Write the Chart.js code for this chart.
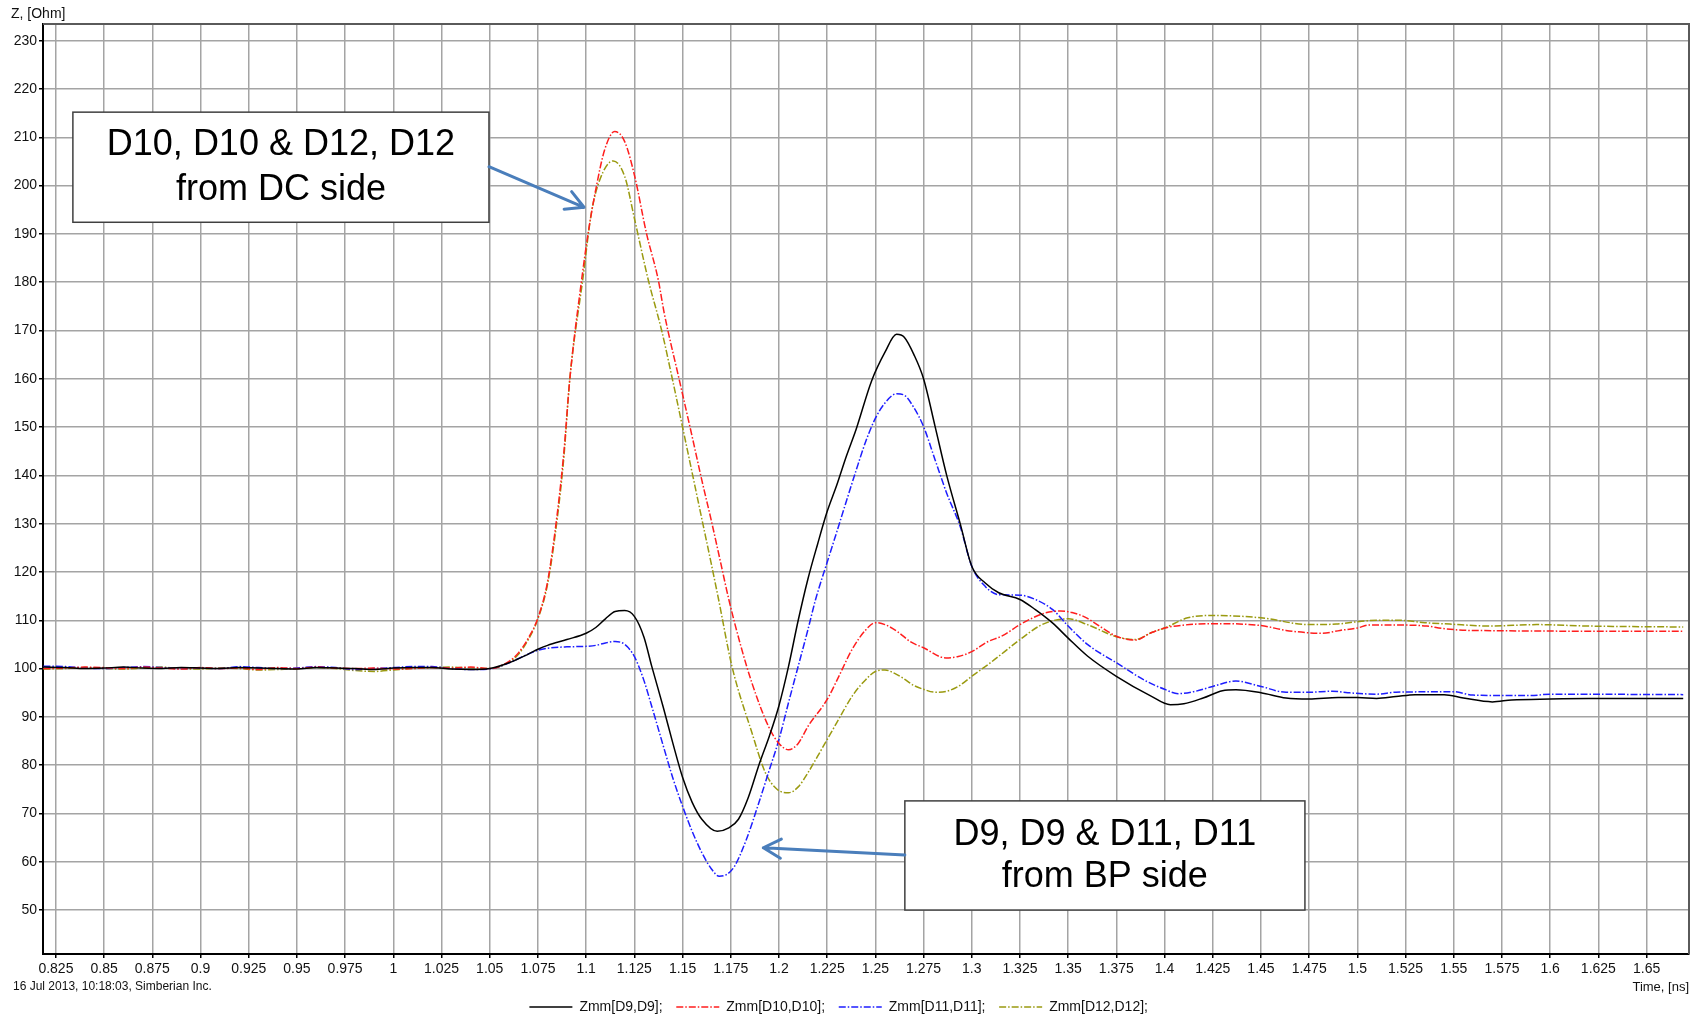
<!DOCTYPE html>
<html>
<head>
<meta charset="utf-8">
<title>Zmm</title>
<script src="https://cdn.jsdelivr.net/npm/chart.js@4.4.1/dist/chart.umd.min.js"></script>
<style>
  html, body { margin: 0; padding: 0; background: #fff; }
  #wrap { width: 1706px; height: 1016px; }
</style>
</head>
<body>
<div id="wrap"><canvas id="myChart" width="1706" height="1016"></canvas></div>
<script>
// [time ns, Z ohm]
const zmmD9 = [
  [0.8185,100.3],[0.83,100.2],[0.84,100.0],[0.85,100.1],[0.86,100.3],[0.87,100.1],[0.88,100.0],[0.89,100.2],
  [0.9,100.1],[0.91,100.0],[0.92,100.2],[0.93,100.1],[0.94,100.0],[0.95,99.9],[0.96,100.2],[0.97,100.1],
  [0.98,100.0],[0.99,99.8],[1.0,100.1],[1.01,100.2],[1.02,100.2],[1.03,99.9],[1.04,99.8],[1.05,100.0],
  [1.06,101.2],[1.07,103],[1.075,104],[1.08,104.8],[1.09,106],[1.1,107.3],[1.105,108.5],[1.11,110.3],
  [1.115,111.8],[1.12,112],[1.125,110.8],[1.13,106.5],[1.134,100.5],[1.14,92],[1.145,84.5],[1.15,77.5],
  [1.155,72.3],[1.16,68.8],[1.168,66.3],[1.174,67],[1.179,68.8],[1.184,73.2],[1.19,80.5],[1.195,86],
  [1.2,92.3],[1.205,100.5],[1.21,110],[1.215,118.5],[1.22,125.7],[1.225,132.5],[1.23,138],[1.235,144],
  [1.24,149.5],[1.248,159.5],[1.255,165.5],[1.261,169.2],[1.265,168.6],[1.27,165],[1.275,160],[1.281,150.1],
  [1.287,140],[1.294,130],[1.3,121.2],[1.307,117.7],[1.314,115.7],[1.325,114.3],[1.333,112.2],[1.342,109.4],
  [1.35,106.3],[1.36,102.6],[1.375,98.4],[1.393,94.3],[1.403,92.5],[1.41,92.7],[1.42,93.9],[1.43,95.4],
  [1.437,95.6],[1.45,95],[1.463,93.9],[1.475,93.7],[1.49,94],[1.5,94],[1.51,93.8],[1.52,94.2],[1.53,94.6],
  [1.545,94.6],[1.555,93.9],[1.57,93.1],[1.58,93.5],[1.6,93.7],[1.62,93.8],[1.669,93.8]
];
const zmmD10 = [
  [0.8185,100.0],[0.83,100.1],[0.84,100.3],[0.85,100.2],[0.86,100.0],[0.87,100.3],[0.88,100.1],[0.89,99.9],
  [0.9,100.2],[0.91,100.0],[0.92,100.1],[0.93,99.8],[0.94,100.2],[0.95,100.0],[0.96,100.3],[0.97,100.1],
  [0.98,100.0],[0.99,100.1],[1.0,99.9],[1.01,100.0],[1.02,100.2],[1.03,100.1],[1.04,100.3],[1.05,100.0],
  [1.06,101.5],[1.065,103.3],[1.07,106.3],[1.075,110.5],[1.08,118],[1.085,132],[1.0885,145],[1.0915,159.8],
  [1.0975,180],[1.1013,190.8],[1.1053,199.8],[1.1096,207.4],[1.1148,211.2],[1.12,209.1],[1.1252,201.9],
  [1.1313,190.1],[1.1374,180.5],[1.1405,173.6],[1.1483,159.8],[1.155,148],[1.16,139],[1.165,130.5],
  [1.17,121.5],[1.174,114.3],[1.18,105],[1.186,97],[1.1946,88],[1.2,84.5],[1.205,83.2],[1.21,84.5],
  [1.215,88],[1.225,93.6],[1.23,97.5],[1.238,104],[1.245,108],[1.25,109.5],[1.255,109.1],[1.262,107.5],
  [1.268,105.6],[1.275,104.3],[1.2866,102.2],[1.293,102.5],[1.3,103.5],[1.308,105.5],[1.316,106.8],
  [1.325,109.1],[1.338,111.5],[1.346,111.9],[1.352,111.6],[1.359,110.6],[1.367,108.6],[1.375,106.7],
  [1.385,105.9],[1.393,107.4],[1.4,108.4],[1.41,109],[1.425,109.3],[1.45,108.9],[1.463,107.9],[1.475,107.4],
  [1.482,107.3],[1.491,107.9],[1.5,108.4],[1.506,109],[1.524,109],[1.536,108.8],[1.544,108.3],[1.558,107.9],
  [1.669,107.7]
];
const zmmD11 = [
  [0.8185,100.5],[0.83,100.4],[0.84,100.1],[0.85,100.0],[0.86,100.2],[0.87,100.4],[0.88,100.2],[0.89,100.0],
  [0.9,100.1],[0.91,100.0],[0.92,100.4],[0.93,100.2],[0.94,100.0],[0.95,100.1],[0.96,100.4],[0.97,100.2],
  [0.98,99.8],[0.99,100.0],[1.0,100.2],[1.01,100.4],[1.02,100.4],[1.03,100.0],[1.04,99.8],[1.05,99.9],
  [1.06,101.2],[1.07,103],[1.075,103.8],[1.08,104.2],[1.09,104.5],[1.1,104.6],[1.105,104.8],[1.11,105.3],
  [1.115,105.6],[1.12,105],[1.125,102.5],[1.13,97.5],[1.134,92.2],[1.14,84],[1.145,77.3],[1.15,71.5],
  [1.155,66.3],[1.16,61.9],[1.165,58.5],[1.169,57],[1.173,57.4],[1.177,59.1],[1.183,64.5],[1.189,71.5],
  [1.195,79],[1.2,85.3],[1.205,93],[1.21,100.5],[1.215,108],[1.219,114.3],[1.225,122],[1.23,128.3],
  [1.235,134.7],[1.24,141],[1.245,147],[1.25,151.8],[1.255,155],[1.261,156.9],[1.265,156.6],[1.27,154],
  [1.275,150.1],[1.281,143.2],[1.287,136.3],[1.294,129.4],[1.3,121.2],[1.307,117],[1.314,115.3],[1.325,115.2],
  [1.333,114.3],[1.342,112.2],[1.35,108.8],[1.36,105],[1.375,101.2],[1.39,97.5],[1.4,95.7],[1.407,94.8],
  [1.415,95.2],[1.425,96.3],[1.437,97.4],[1.45,96.3],[1.463,95.1],[1.475,95.1],[1.487,95.3],[1.495,95],
  [1.51,94.7],[1.52,95.1],[1.55,95.2],[1.56,94.5],[1.59,94.4],[1.6,94.7],[1.669,94.6]
];
const zmmD12 = [
  [0.8185,99.9],[0.83,100.0],[0.84,100.2],[0.85,100.0],[0.86,99.9],[0.87,100.1],[0.88,100.3],[0.89,100.0],
  [0.9,99.9],[0.91,100.1],[0.92,100.0],[0.93,99.7],[0.94,99.8],[0.95,100.0],[0.96,100.2],[0.97,100.0],
  [0.98,99.6],[0.99,99.4],[1.0,99.7],[1.01,100.0],[1.02,100.2],[1.03,100.3],[1.04,100.1],[1.05,100.0],
  [1.06,101.3],[1.065,103],[1.07,106],[1.075,110.3],[1.08,117.5],[1.085,131],[1.0885,144],[1.0915,159.8],
  [1.0984,181],[1.1027,194.3],[1.1071,201.2],[1.114,205.1],[1.12,201.9],[1.1252,192.9],[1.1322,180.5],
  [1.1391,170.1],[1.1448,159.8],[1.15,150],[1.155,140.5],[1.16,131],[1.165,121.5],[1.1687,114.3],
  [1.1756,100.5],[1.186,86.7],[1.193,78.4],[1.199,75],[1.205,74.3],[1.21,75.5],[1.215,78.4],[1.22,81.8],
  [1.225,85.3],[1.23,88.8],[1.238,94.3],[1.245,97.7],[1.25,99.4],[1.255,99.7],[1.26,99],[1.264,98.1],
  [1.27,96.5],[1.275,95.7],[1.281,95.1],[1.287,95.3],[1.293,96.3],[1.3,98.4],[1.31,101.3],[1.325,106],
  [1.335,108.8],[1.342,109.9],[1.35,110.3],[1.36,109.1],[1.375,106.6],[1.385,106],[1.393,107.4],[1.4,108.4],
  [1.412,110.5],[1.425,111],[1.45,110.5],[1.475,109.1],[1.489,109.2],[1.5,109.7],[1.51,110],[1.522,110],
  [1.535,109.5],[1.548,109.2],[1.569,108.8],[1.593,109.1],[1.62,108.8],[1.669,108.6]
];

const seriesLabels = ['Zmm[D9,D9];', 'Zmm[D10,D10];', 'Zmm[D11,D11];', 'Zmm[D12,D12];'];
const seriesData = [zmmD9, zmmD10, zmmD11, zmmD12];
const seriesColors = ['#000000', '#ff1e1e', '#1e1eff', '#9a9a10'];
const seriesDash = [[], [7, 2, 1.5, 2], [7, 2, 1.5, 2], [7, 2, 1.5, 2]];

const xRange = [0.8183, 1.672];
const yRange = [40.9, 233.45];
const xStep = 0.025;
const yStep = 10;

// callouts: box [x0, yTop, x1, yBottom] in data units, arrow [from, to]
const notes = [
  { lines: ['D10, D10 & D12, D12', 'from DC side'], lineY: [208.4, 199.1], cx: 0.9417,
    box: [0.8338, 215.2, 1.0496, 192.4], arrow: [[1.0496, 203.9], [1.0989, 195.5]] },
  { lines: ['D9, D9 & D11, D11', 'from BP side'], lineY: [65.5, 56.8], cx: 1.369,
    box: [1.2653, 72.6, 1.4728, 50.0], arrow: [[1.2653, 61.4], [1.1919, 62.9]] }
];

const FONT = "'Liberation Sans', Arial, sans-serif";
Chart.defaults.font.family = FONT;

const frameAndNotes = {
  id: 'frameAndNotes',
  afterDraw(chart) {
    const { ctx, chartArea: a, scales: { x, y } } = chart;
    ctx.save();
    // top/right frame
    ctx.strokeStyle = '#5a5a5a';
    ctx.lineWidth = 2;
    ctx.beginPath();
    ctx.moveTo(a.left, a.top);
    ctx.lineTo(a.right, a.top);
    ctx.lineTo(a.right, a.bottom);
    ctx.stroke();

    // captions
    ctx.fillStyle = '#111';
    ctx.textBaseline = 'middle';
    ctx.textAlign = 'left';
    ctx.font = '14px ' + FONT;
    ctx.fillText('Z, [Ohm]', 11, 14);
    ctx.font = '12px ' + FONT;
    ctx.fillText('16 Jul 2013, 10:18:03, Simberian Inc.', 13, 987);

    notes.forEach(n => {
      const bx0 = x.getPixelForValue(n.box[0]), by0 = y.getPixelForValue(n.box[1]);
      const bx1 = x.getPixelForValue(n.box[2]), by1 = y.getPixelForValue(n.box[3]);
      ctx.fillStyle = '#fff';
      ctx.fillRect(bx0, by0, bx1 - bx0, by1 - by0);
      ctx.strokeStyle = '#404040';
      ctx.lineWidth = 1.5;
      ctx.strokeRect(bx0, by0, bx1 - bx0, by1 - by0);

      ctx.fillStyle = '#000';
      ctx.textAlign = 'center';
      ctx.font = '36px ' + FONT;
      n.lines.forEach((t, i) => ctx.fillText(t, x.getPixelForValue(n.cx), y.getPixelForValue(n.lineY[i])));

      // arrow
      const p0 = [x.getPixelForValue(n.arrow[0][0]), y.getPixelForValue(n.arrow[0][1])];
      const p1 = [x.getPixelForValue(n.arrow[1][0]), y.getPixelForValue(n.arrow[1][1])];
      const ang = Math.atan2(p1[1] - p0[1], p1[0] - p0[0]);
      ctx.strokeStyle = '#4a7ebb';
      ctx.lineWidth = 3;
      ctx.lineCap = 'round';
      ctx.beginPath();
      ctx.moveTo(p0[0], p0[1]);
      ctx.lineTo(p1[0], p1[1]);
      [0.5, -0.5].forEach(d => {
        ctx.moveTo(p1[0], p1[1]);
        ctx.lineTo(p1[0] - 20 * Math.cos(ang + d), p1[1] - 20 * Math.sin(ang + d));
      });
      ctx.stroke();
    });
    ctx.restore();
  }
};

const gridOpts = { color: '#a4a4a4', lineWidth: 1.5, tickLength: 4, tickColor: '#000', tickWidth: 1.5 };
const tickFont = { family: FONT, size: 14 };

new Chart(document.getElementById('myChart'), {
  type: 'line',
  data: {
    datasets: seriesData.map((d, i) => ({
      label: seriesLabels[i],
      data: d.map(p => ({ x: p[0], y: p[1] })),
      borderColor: seriesColors[i],
      backgroundColor: seriesColors[i],
      borderDash: seriesDash[i],
      borderWidth: 1.5,
      pointRadius: 0,
      pointHoverRadius: 0,
      fill: false,
      cubicInterpolationMode: 'monotone'
    }))
  },
  options: {
    responsive: false,
    animation: false,
    devicePixelRatio: 1,
    events: [],
    // legend box carries 10px of built-in bottom slack, let it hang off the canvas
    layout: { padding: { top: 24, right: 17, left: 0, bottom: -8 } },
    scales: {
      x: {
        type: 'linear',
        min: xRange[0],
        max: xRange[1],
        afterFit: s => { s.height = 44; },
        border: { color: '#000', width: 2 },
        grid: gridOpts,
        ticks: {
          stepSize: xStep, includeBounds: false, autoSkip: false, maxRotation: 0, minRotation: 0,
          padding: 3, color: '#111', font: tickFont,
          callback: v => String(+v.toFixed(3))
        },
        title: {
          display: true, text: 'Time, [ns]', align: 'end', color: '#111',
          font: { family: FONT, size: 13 }, padding: { top: 0, bottom: 3 }
        }
      },
      y: {
        type: 'linear',
        min: yRange[0],
        max: yRange[1],
        afterFit: s => { s.width = 43; },
        border: { color: '#000', width: 2 },
        grid: gridOpts,
        ticks: {
          stepSize: yStep, includeBounds: false, padding: 2, color: '#111', font: tickFont,
          callback: v => String(+v.toFixed(1))
        }
      }
    },
    plugins: {
      tooltip: { enabled: false },
      legend: {
        position: 'bottom',
        align: 'center',
        labels: {
          usePointStyle: true,
          pointStyle: 'line',
          pointStyleWidth: 43,
          padding: 2,
          color: '#111',
          font: { family: FONT, size: 14 },
          generateLabels: chart => Chart.defaults.plugins.legend.labels.generateLabels(chart).map(l => {
            const ds = chart.data.datasets[l.datasetIndex];
            l.text = l.text + '   ';
            l.lineDash = ds.borderDash;
            l.lineWidth = 1.5;
            l.strokeStyle = ds.borderColor;
            return l;
          })
        }
      }
    }
  },
  plugins: [frameAndNotes]
});
</script>
</body>
</html>
